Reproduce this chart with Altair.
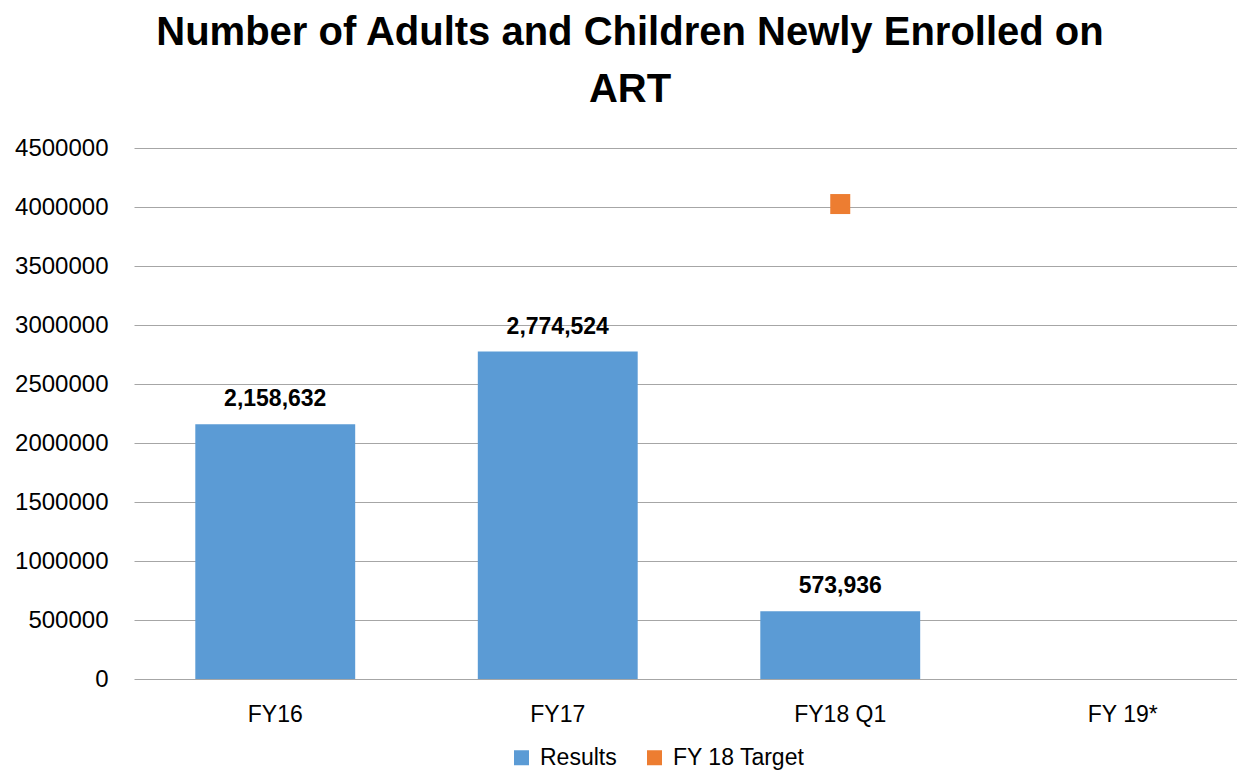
import altair as alt
import pandas as pd

categories = ["FY16", "FY17", "FY18 Q1", "FY 19*"]
results = [2158632, 2774524, 573936, None]
target_category = ["FY18 Q1"]
target_values = [4025000]
series_names = ["Results", "FY 18 Target"]
series_colors = ["#5B9BD5", "#ED7D31"]
y_ticks = [0, 500000, 1000000, 1500000, 2000000, 2500000, 3000000, 3500000, 4000000, 4500000]
title_lines = ["Number of Adults and Children Newly Enrolled on", "ART"]

FONT = "Liberation Sans"

bars_df = pd.DataFrame({"category": categories, "value": results})
bars_df["series"] = series_names[0]
bars_df = bars_df.dropna()
target_df = pd.DataFrame({"category": target_category, "value": target_values})
target_df["series"] = series_names[1]

x_enc = alt.X(
    "category:N",
    sort=categories,
    scale=alt.Scale(domain=categories, range=[0, 1130], paddingInner=0.434, paddingOuter=0.217),
    axis=alt.Axis(title=None, labelAngle=0, ticks=False, domain=False, grid=False,
                  labelFont=FONT, labelFontSize=23, labelColor="#000000", labelPadding=24),
)
y_enc = alt.Y(
    "value:Q",
    scale=alt.Scale(domain=[0, 4500000], nice=False),
    axis=alt.Axis(title=None, values=y_ticks, format="d", ticks=False, domain=False,
                  gridColor="#a6a6a6", gridWidth=1, labelFont=FONT, labelFontSize=24,
                  labelColor="#000000", labelPadding=26),
)
color_enc = alt.Color(
    "series:N",
    scale=alt.Scale(domain=series_names, range=series_colors),
    legend=alt.Legend(title=None, orient="none", legendX=376, legendY=598, direction="horizontal",
                      symbolType="square", symbolSize=225, symbolStrokeWidth=0, symbolOpacity=1,
                      labelFont=FONT, labelFontSize=23, labelColor="#000000",
                      columnPadding=26, labelOffset=7),
)

bars = alt.Chart(bars_df).mark_bar().encode(x=x_enc, y=y_enc, color=color_enc)
labels = alt.Chart(bars_df).mark_text(
    font=FONT, fontSize=23, fontWeight="bold", dy=-18, baseline="alphabetic", color="#000000"
).encode(x=x_enc, y=y_enc, text=alt.Text("value:Q", format=",d"))
points = alt.Chart(target_df).mark_square(size=400, opacity=1, filled=True).encode(
    x=x_enc, y=y_enc, color=color_enc
)

chart = alt.layer(bars, labels, points).properties(
    width=1096,
    height=531,
    autosize=alt.AutoSizeParams(type="none"),
    padding={"left": 126, "top": 140, "right": 7, "bottom": 92},
    title=alt.TitleParams(
        title_lines, font=FONT, fontSize=40, fontWeight="bold", color="#000000",
        lineHeight=57, anchor="middle", dx=-52, offset=26,
    ),
).configure_view(stroke=None)

chart.save("out.html", embed_options={"renderer": "svg", "actions": False})
